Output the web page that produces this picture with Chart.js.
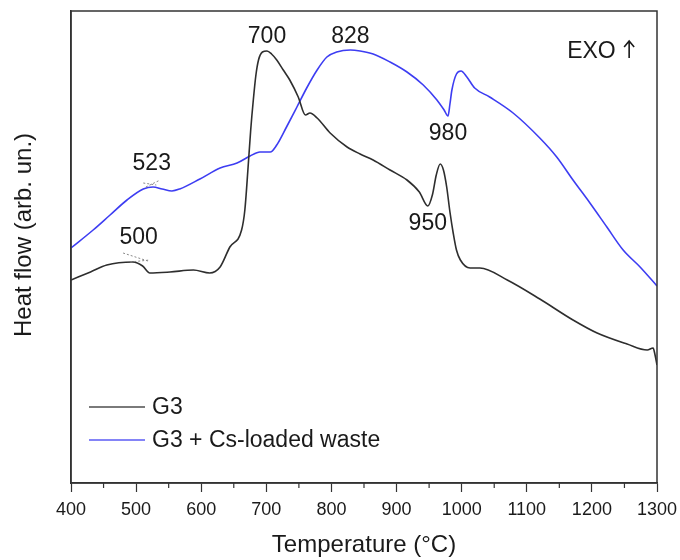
<!DOCTYPE html>
<html>
<head>
<meta charset="utf-8">
<script src="https://cdn.jsdelivr.net/npm/chart.js@4/dist/chart.umd.min.js"></script>
<style>
  html, body { margin: 0; padding: 0; background: #ffffff; }
  #wrap { width: 680px; height: 560px; }
</style>
</head>
<body>
<div id="wrap"><canvas id="c" width="680" height="560"></canvas></div>
<script>
// ---- data (heat flow in arbitrary units) ----
const g3Temp = [400,430,455,495,510,521,552,588,613,629,644,662,667,672,676,680,684,688,694,701,708,716,726,736,749,760,767,778,798,824,844,864,890,916,935,948,955,961,967,972,977,982,987,992,998,1013,1028,1070,1120,1171,1208,1254,1285,1294,1297,1300];
const g3Flow = [203,211,218,221,217,210,211,213,210,216,236,253,273,316,353,383,408,423,431,432,429,423,413,403,386,368,370,365,350,336,329,323,313,303,291,277,288,308,319,313,296,271,250,233,223,215,215,203,184,163,150,139,133,135,128,118];

const csTemp = [400,434,460,486,511,526,540,555,567,598,629,655,675,690,706,716,731,747,762,778,793,808,829,844,864,890,916,941,962,973,979,982,985,992,999,1008,1020,1043,1079,1120,1146,1171,1197,1223,1248,1274,1300];
const csFlow = [235,253,268,283,294,296,294,292,294,304,315,320,327,331,331,338,356,376,395,413,426,431,433,432,429,421,411,398,383,373,367,379,393,409,412,406,395,386,370,345,326,303,280,256,233,216,197];

const seriesNames = ['G3', 'G3 + Cs-loaded waste'];
const xTicks = [400,500,600,700,800,900,1000,1100,1200,1300];

// peak annotations: text, temperature of label centre, heat-flow level of label baseline
const peakText = ['700','828','950','980','523','500'];
const peakTemp = [701,829,948,979,524,504];
const peakLevel = [440,440,253,343,313,239];

// tangent construction lines near 500 and 523 (T1, v1, T2, v2)
const tangentLines = [
  [480,230,518,222],
  [491,221,521,223],
  [511,300,531,298],
  [515,296,537,303]
];

const colors = ['#2e2e2e', '#3d3df2'];
const font = 'Liberation Sans, Arial, Helvetica, sans-serif';

function pts(xs, ys) { return xs.map((x, i) => ({x: x, y: ys[i]})); }

const decor = {
  id: 'decor',
  afterDraw(chart) {
    const ctx = chart.ctx;
    const a = chart.chartArea;
    const xs = chart.scales.x, ys = chart.scales.y;
    ctx.save();
    // frame
    ctx.strokeStyle = '#333';
    ctx.lineWidth = 1.5;
    ctx.strokeRect(a.left, a.top, a.right - a.left, a.bottom - a.top);
    // minor ticks
    ctx.lineWidth = 1.2;
    for (let i = 0; i < xTicks.length - 1; i++) {
      const px = xs.getPixelForValue((xTicks[i] + xTicks[i + 1]) / 2);
      ctx.beginPath();
      ctx.moveTo(px, a.bottom);
      ctx.lineTo(px, a.bottom + 5);
      ctx.stroke();
    }
    // tangent dotted lines
    ctx.strokeStyle = '#888';
    ctx.lineWidth = 1;
    ctx.setLineDash([2, 2]);
    tangentLines.forEach(t => {
      ctx.beginPath();
      ctx.moveTo(xs.getPixelForValue(t[0]), ys.getPixelForValue(t[1]));
      ctx.lineTo(xs.getPixelForValue(t[2]), ys.getPixelForValue(t[3]));
      ctx.stroke();
    });
    ctx.setLineDash([]);
    // peak labels
    ctx.fillStyle = '#1a1a1a';
    ctx.font = '23px ' + font;
    ctx.textAlign = 'center';
    ctx.textBaseline = 'alphabetic';
    peakText.forEach((t, i) => {
      ctx.fillText(t, xs.getPixelForValue(peakTemp[i]), ys.getPixelForValue(peakLevel[i]));
    });
    // EXO arrow
    ctx.textAlign = 'left';
    ctx.font = '23px ' + font;
    ctx.fillText('EXO', xs.getPixelForValue(1162), ys.getPixelForValue(425));
    const ax = xs.getPixelForValue(1162) + 62, ay = ys.getPixelForValue(425);
    ctx.strokeStyle = '#1a1a1a';
    ctx.lineWidth = 1.6;
    ctx.beginPath();
    ctx.moveTo(ax, ay);
    ctx.lineTo(ax, ay - 17);
    ctx.moveTo(ax - 5, ay - 11);
    ctx.lineTo(ax, ay - 17);
    ctx.lineTo(ax + 5, ay - 11);
    ctx.stroke();
    // legend
    ctx.font = '23px ' + font;
    ctx.textBaseline = 'middle';
    seriesNames.forEach((n, i) => {
      const y = 407 + i * 33;
      ctx.strokeStyle = colors[i];
      ctx.globalAlpha = 0.85;
      ctx.lineWidth = 1.6;
      ctx.beginPath();
      ctx.moveTo(89, y);
      ctx.lineTo(145, y);
      ctx.stroke();
      ctx.globalAlpha = 1;
      ctx.fillStyle = '#1a1a1a';
      ctx.fillText(n, 152, y + 1);
    });
    // y title
    ctx.translate(24, 235);
    ctx.rotate(-Math.PI / 2);
    ctx.textAlign = 'center';
    ctx.textBaseline = 'middle';
    ctx.font = '24px ' + font;
    ctx.fillText('Heat flow (arb. un.)', 0, 0);
    ctx.restore();
  }
};

new Chart(document.getElementById('c'), {
  type: 'line',
  data: {
    datasets: [
      { label: seriesNames[0], data: pts(g3Temp, g3Flow), borderColor: colors[0], borderWidth: 1.6, pointRadius: 0, cubicInterpolationMode: 'monotone', fill: false },
      { label: seriesNames[1], data: pts(csTemp, csFlow), borderColor: colors[1], borderWidth: 1.6, pointRadius: 0, cubicInterpolationMode: 'monotone', fill: false }
    ]
  },
  options: {
    responsive: false,
    animation: false,
    devicePixelRatio: 1,
    layout: { padding: { left: 0, top: 11, right: 23, bottom: 0 } },
    plugins: { legend: { display: false }, tooltip: { enabled: false } },
    scales: {
      x: {
        type: 'linear', min: 400, max: 1300,
        afterBuildTicks: s => { s.ticks = xTicks.map(v => ({value: v})); },
        ticks: { font: { size: 18, family: font }, color: '#1a1a1a', padding: 7, maxRotation: 0, autoSkip: false, callback: v => String(v) },
        grid: { drawOnChartArea: false, drawTicks: true, tickLength: 9, tickWidth: 1.2, tickColor: '#333' },
        border: { color: '#333', width: 1.5 },
        title: { display: true, text: 'Temperature (°C)', font: { size: 24, family: font }, color: '#1a1a1a', padding: { top: 0, bottom: 0 } },
        afterFit: s => { s.height = 77; s.paddingLeft = 0; s.paddingRight = 0; }
      },
      y: {
        min: 0, max: 472,
        ticks: { display: false },
        grid: { display: false },
        border: { color: '#333', width: 1.5 },
        afterFit: s => { s.width = 71; s.paddingTop = 0; s.paddingBottom = 0; }
      }
    }
  },
  plugins: [decor]
});
</script>
</body>
</html>
